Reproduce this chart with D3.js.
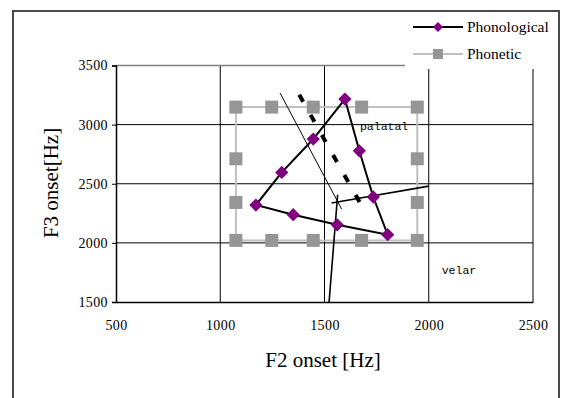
<!DOCTYPE html>
<html>
<head>
<meta charset="utf-8">
<script src="https://cdn.jsdelivr.net/npm/d3@7"></script>
<style>
  body { margin: 0; background: #fff; }
  svg { display: block; }
</style>
</head>
<body>
<div id="wrapper"></div>
<script>
// data
const xTicks = [500, 1000, 1500, 2000, 2500]
const yTicks = [1500, 2000, 2500, 3000, 3500]

const phonoF2 = [1598, 1446, 1295, 1171, 1350, 1561, 1803, 1734, 1667, 1598]
const phonoF3 = [3216, 2878, 2596, 2320, 2238, 2153, 2069, 2388, 2779, 3216]

const phonetF2 = [1075, 1247, 1446, 1678, 1945, 1945, 1945, 1945, 1678, 1446, 1247, 1075, 1075, 1075, 1075]
const phonetF3 = [3148, 3148, 3148, 3148, 3148, 2711, 2342, 2021, 2021, 2021, 2021, 2021, 2342, 2711, 3148]

// boundary lines [F2 start, F3 start, F2 end, F3 end]
const thinBoundary = [1287, 3267, 1582, 2286]
const dashBoundary = [1379, 3252, 1678, 2314]
const velarBoundaryA = [1534, 2337, 2000, 2480]
const velarBoundaryB = [1563, 2407, 1522, 1500]

const regionLabels = ["palatal", "velar"]
const regionF2 = [1670, 2062]
const regionF3 = [2955, 1737]

const seriesNames = ["Phonological", "Phonetic"]

function drawChart() {
  const width = 562
  const height = 398

  const svg = d3.select("#wrapper")
    .append("svg")
      .attr("width", width)
      .attr("height", height)

  // outer frame
  svg.append("rect")
    .attr("x", 13)
    .attr("y", 11)
    .attr("width", 546)
    .attr("height", 420)
    .attr("fill", "white")
    .attr("stroke", "#4a4a4a")
    .attr("stroke-width", 2)

  const xScale = d3.scaleLinear()
    .domain([500, 2500])
    .range([116, 533])
  const yScale = d3.scaleLinear()
    .domain([1500, 3500])
    .range([302, 65.5])

  // gridlines
  const grid = svg.append("g")
  grid.selectAll(".vgrid")
    .data(xTicks.slice(1, -1))
    .enter().append("line")
      .attr("x1", d => xScale(d))
      .attr("x2", d => xScale(d))
      .attr("y1", yScale(3500))
      .attr("y2", yScale(1500))
      .attr("stroke", "black")
      .attr("stroke-width", 1)
  grid.selectAll(".hgrid")
    .data(yTicks.slice(1, -1))
    .enter().append("line")
      .attr("x1", xScale(500))
      .attr("x2", xScale(2500))
      .attr("y1", d => yScale(d))
      .attr("y2", d => yScale(d))
      .attr("stroke", "black")
      .attr("stroke-width", 1)

  // plot border
  svg.append("line")
    .attr("x1", xScale(500)).attr("x2", xScale(2500))
    .attr("y1", yScale(3500)).attr("y2", yScale(3500))
    .attr("stroke", "#808080").attr("stroke-width", 1.5)
  svg.append("line")
    .attr("x1", xScale(2500)).attr("x2", xScale(2500))
    .attr("y1", yScale(3500)).attr("y2", yScale(1500))
    .attr("stroke", "black").attr("stroke-width", 1)

  // axes
  const fmt = d3.format("d")
  const xAxis = svg.append("g")
    .attr("transform", `translate(0,${yScale(1500)})`)
    .call(d3.axisBottom(xScale).tickValues(xTicks).tickFormat(fmt).tickSize(0).tickPadding(18))
  const yAxis = svg.append("g")
    .attr("transform", `translate(${xScale(500)},0)`)
    .call(d3.axisLeft(yScale).tickValues(yTicks).tickFormat(fmt).tickSize(4).tickPadding(4))
  ;[xAxis, yAxis].forEach(ax => {
    ax.attr("font-family", "Liberation Serif, serif")
      .attr("font-size", 14)
    ax.select(".domain").attr("stroke", "black").attr("stroke-width", 1.5)
    ax.selectAll(".tick line").attr("stroke", "black")
    ax.selectAll("text")
      .attr("letter-spacing", "0.4px")
      .attr("fill", "black")
  })

  const lineGen = d3.line()
    .x(d => xScale(d[0]))
    .y(d => yScale(d[1]))

  // phonetic series
  const phonet = phonetF2.map((d, i) => [d, phonetF3[i]])
  svg.append("path")
    .datum(phonet)
    .attr("d", lineGen)
    .attr("fill", "none")
    .attr("stroke", "#c0c0c0")
    .attr("stroke-width", 2)
  svg.selectAll(".sq")
    .data(phonet.slice(0, -1))
    .enter().append("rect")
      .attr("x", d => xScale(d[0]) - 6.5)
      .attr("y", d => yScale(d[1]) - 6.5)
      .attr("width", 13)
      .attr("height", 13)
      .attr("fill", "#969696")

  // boundaries
  const seg = (arr) => [[arr[0], arr[1]], [arr[2], arr[3]]]
  svg.append("path")
    .datum(seg(thinBoundary))
    .attr("d", lineGen)
    .attr("stroke", "black")
    .attr("stroke-width", 1)
  svg.append("path")
    .datum(seg(dashBoundary))
    .attr("d", lineGen)
    .attr("stroke", "black")
    .attr("stroke-width", 4)
    .attr("stroke-dasharray", "8 15")
  svg.append("path")
    .datum(seg(velarBoundaryA))
    .attr("d", lineGen)
    .attr("stroke", "black")
    .attr("stroke-width", 1.6)
  svg.append("path")
    .datum(seg(velarBoundaryB))
    .attr("d", lineGen)
    .attr("stroke", "black")
    .attr("stroke-width", 1.6)

  // phonological series
  const phono = phonoF2.map((d, i) => [d, phonoF3[i]])
  svg.append("path")
    .datum(phono)
    .attr("d", lineGen)
    .attr("fill", "none")
    .attr("stroke", "black")
    .attr("stroke-width", 2)
  const diamond = d3.symbol().type(d3.symbolSquare).size(88)
  svg.selectAll(".dm")
    .data(phono.slice(0, -1))
    .enter().append("path")
      .attr("d", diamond)
      .attr("transform", d => `translate(${xScale(d[0])},${yScale(d[1])}) rotate(45)`)
      .attr("fill", "#800080")

  // region labels
  svg.selectAll(".region")
    .data(regionLabels)
    .enter().append("text")
      .attr("x", (d, i) => xScale(regionF2[i]))
      .attr("y", (d, i) => yScale(regionF3[i]))
      .text(d => d)
      .attr("font-family", "Liberation Mono, monospace")
      .attr("font-size", "11.5px")
      .attr("fill", "black")

  // axis titles
  svg.append("text")
    .attr("x", 323)
    .attr("y", 367)
    .attr("text-anchor", "middle")
    .attr("font-family", "Liberation Serif, serif")
    .attr("font-size", "21px")
    .text("F2 onset [Hz]")
  svg.append("text")
    .attr("transform", "translate(58,183) rotate(-90)")
    .attr("text-anchor", "middle")
    .attr("font-family", "Liberation Serif, serif")
    .attr("font-size", "21px")
    .text("F3 onset[Hz]")

  // legend
  const legend = svg.append("g")
  legend.append("rect")
    .attr("x", 405)
    .attr("y", 13)
    .attr("width", 153)
    .attr("height", 56)
    .attr("fill", "white")
  const legendY = [27, 54]
  const legendStroke = ["black", "#c0c0c0"]
  legend.selectAll(".lline")
    .data(seriesNames)
    .enter().append("line")
      .attr("x1", 413)
      .attr("x2", 463)
      .attr("y1", (d, i) => legendY[i])
      .attr("y2", (d, i) => legendY[i])
      .attr("stroke", (d, i) => legendStroke[i])
      .attr("stroke-width", 2)
  legend.append("path")
    .attr("d", d3.symbol().type(d3.symbolSquare).size(50))
    .attr("transform", `translate(438,${legendY[0]}) rotate(45)`)
    .attr("fill", "#800080")
  legend.append("rect")
    .attr("x", 433)
    .attr("y", legendY[1] - 5)
    .attr("width", 10)
    .attr("height", 10)
    .attr("fill", "#969696")
  legend.selectAll(".ltext")
    .data(seriesNames)
    .enter().append("text")
      .attr("x", 467)
      .attr("y", (d, i) => legendY[i] + 5)
      .text(d => d)
      .attr("font-family", "Liberation Serif, serif")
      .attr("font-size", "15.5px")
      .attr("fill", "black")
}

drawChart()
</script>
</body>
</html>
